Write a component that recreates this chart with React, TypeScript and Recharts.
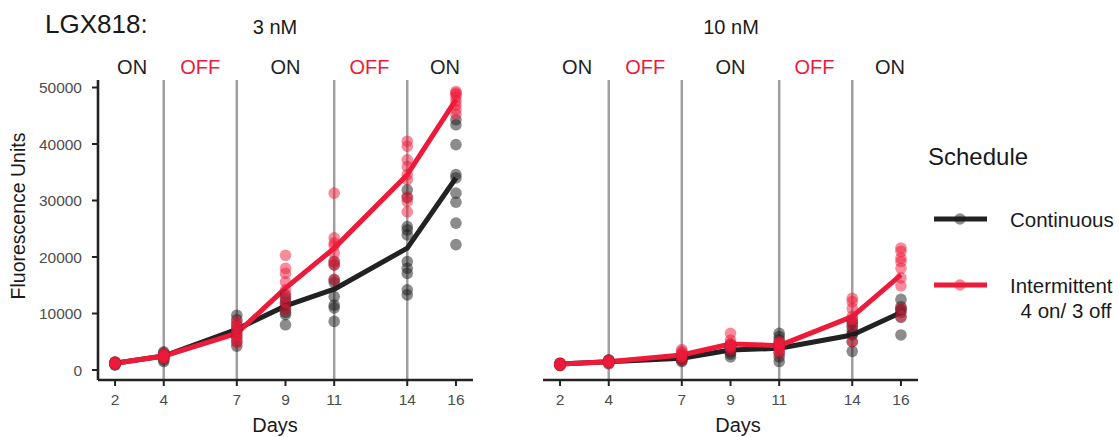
import React from "react";
import { ComposedChart, Scatter, Line, XAxis, YAxis, ReferenceLine } from "recharts";

const days = [2, 4, 7, 9, 11, 14, 16];
const switchDays = [4, 7, 11, 14];
const phaseLabels = ["ON", "OFF", "ON", "OFF", "ON"];
const phaseAt = [2.7, 5.5, 9, 12.45, 15.55];
const yTicks = [0, 10000, 20000, 30000, 40000, 50000];

// 3 nM, one row per day
const cont3 = [
  [850, 1000, 1100, 1200, 1250, 1350, 1450, 1150],
  [1500, 1800, 2100, 2400, 2700, 3000, 3200, 2300],
  [4200, 5000, 5800, 6500, 7200, 8000, 8900, 9700],
  [8000, 9800, 10200, 10800, 11500, 12000, 12600, 13300],
  [8600, 11000, 11500, 13000, 15500, 16000, 18600, 19200],
  [13300, 14200, 17100, 18000, 19200, 23900, 24800, 25400, 30500, 31900],
  [22200, 26000, 29700, 31300, 34000, 34600, 39900, 43400, 44300],
];
const int3 = [
  [1000, 1100, 1200, 1300, 1250, 1150, 1350, 1200],
  [2000, 2200, 2400, 2500, 2700, 2900, 2300, 2600],
  [4800, 5400, 6000, 6500, 7000, 7500, 8000, 8600],
  [10700, 11900, 13000, 14200, 15600, 17100, 18000, 20300],
  [16000, 18600, 19200, 20700, 22500, 23400, 22000, 31300],
  [28000, 29800, 30700, 33700, 34600, 36000, 37200, 39600, 40500],
  [45300, 46100, 46900, 47600, 48300, 48800, 49000, 49300],
];
const cont3Mean = [1190, 2480, 7210, 11350, 14300, 21570, 33980];
const int3Mean = [1190, 2480, 6500, 14480, 21570, 34570, 47870];

// 10 nM
const cont10 = [
  [750, 850, 950, 1050, 1150, 1250, 1000, 1100],
  [1100, 1300, 1400, 1500, 1600, 1700, 1800, 1450],
  [1500, 1700, 1900, 2100, 2300, 2500, 2000, 2600],
  [2300, 2800, 3200, 3500, 3800, 4200, 4500, 3600],
  [1500, 2300, 3000, 4100, 4500, 5300, 5900, 6500],
  [3300, 5000, 6200, 7000, 7700, 8300, 8600, 6400],
  [6200, 9300, 10200, 10600, 11200, 12500, 10800],
];
const int10 = [
  [800, 900, 1000, 1100, 1200, 1150, 1050, 950],
  [1200, 1300, 1400, 1500, 1600, 1700, 1450, 1550],
  [1800, 2200, 2500, 2800, 3000, 3300, 3600, 2600],
  [3500, 3900, 4400, 4700, 5300, 6500, 4200, 4400],
  [3000, 3500, 3900, 4300, 4600, 5000, 4800, 4200],
  [5000, 7700, 8900, 10900, 12100, 12700, 9500, 9000],
  [9500, 10900, 14900, 16300, 18000, 19200, 19800, 21000, 21600],
];
const cont10Mean = [1060, 1480, 2070, 3550, 3840, 6200, 10170];
const int10Mean = [1060, 1480, 2660, 4610, 4310, 9460, 16840];

const BLACK = "#222222";
const RED = "#EE1A3A";
const FONT = "'Liberation Sans', Arial, sans-serif";

const toPoints = (rows: number[][]) =>
  days.flatMap((d, i) => rows[i].map((v) => ({ day: d, v })));
const toLine = (means: number[]) => days.map((d, i) => ({ day: d, v: means[i] }));

const dot = (color: string) => (p: any) =>
  <circle cx={p.cx} cy={p.cy} r={5.8} fill={color} fillOpacity={0.5} />;

function Panel({
  cont,
  contMean,
  inter,
  interMean,
  showY,
  left,
}: {
  cont: number[][];
  contMean: number[];
  inter: number[][];
  interMean: number[];
  showY: boolean;
  left: number;
}) {
  return (
    <div style={{ position: "absolute", left, top: 0 }}>
      <ComposedChart
        width={480}
        height={437}
        margin={{ top: 80, right: 7, bottom: 0, left: showY ? 0 : 98 }}
      >
        <XAxis
          type="number"
          dataKey="day"
          domain={[1.3, 16.7]}
          ticks={days}
          allowDataOverflow
          height={57}
          tickSize={6}
          tickMargin={8}
          tick={{ fontSize: 15.5, fill: "#4d4d4d", fontFamily: FONT }}
          tickLine={{ stroke: BLACK, strokeWidth: 2 }}
          axisLine={{ stroke: BLACK, strokeWidth: 2.6 }}
        />
        <YAxis
          type="number"
          domain={[-1770, 51330]}
          ticks={yTicks}
          allowDataOverflow
          hide={!showY}
          width={98}
          tickSize={6}
          tickMargin={10}
          tick={{ fontSize: 15.5, fill: "#4d4d4d", fontFamily: FONT }}
          tickLine={{ stroke: BLACK, strokeWidth: 2 }}
          axisLine={{ stroke: BLACK, strokeWidth: 2.6 }}
        />
        {switchDays.map((d) => (
          <ReferenceLine key={d} x={d} stroke="#8f8f8f" strokeOpacity={0.85} strokeWidth={2.5} />
        ))}
        {phaseAt.map((d, i) => (
          <ReferenceLine
            key={"p" + i}
            x={d}
            stroke="none"
            label={{
              value: phaseLabels[i],
              position: "top",
              offset: 6,
              fontSize: 20,
              fontFamily: FONT,
              fill: phaseLabels[i] === "OFF" ? RED : BLACK,
            }}
          />
        ))}
        <Scatter data={toPoints(cont)} dataKey="v" shape={dot("#1a1a1a")} isAnimationActive={false} />
        <Scatter data={toPoints(inter)} dataKey="v" shape={dot(RED)} isAnimationActive={false} />
        <Line
          data={toLine(contMean)}
          dataKey="v"
          type="linear"
          stroke={BLACK}
          strokeWidth={5}
          strokeLinejoin="round"
          dot={false}
          activeDot={false}
          isAnimationActive={false}
        />
        <Line
          data={toLine(interMean)}
          dataKey="v"
          type="linear"
          stroke={RED}
          strokeWidth={5}
          strokeLinejoin="round"
          dot={false}
          activeDot={false}
          isAnimationActive={false}
        />
      </ComposedChart>
    </div>
  );
}

export default function App() {
  return (
    <div
      style={{
        position: "absolute",
        left: 0,
        top: 0,
        width: 1119,
        height: 437,
        background: "#fff",
        fontFamily: FONT,
        overflow: "hidden",
      }}
    >
      <Panel cont={cont3} contMean={cont3Mean} inter={int3} interMean={int3Mean} showY left={0} />
      <Panel cont={cont10} contMean={cont10Mean} inter={int10} interMean={int10Mean} showY={false} left={445} />
      <svg
        width={1119}
        height={437}
        style={{ position: "absolute", left: 0, top: 0, pointerEvents: "none" }}
        fontFamily={FONT}
      >
        <text x={45} y={33} fontSize={26} fill="#1a1a1a">LGX818:</text>
        <text x={275} y={34} fontSize={20} fill="#1a1a1a" textAnchor="middle">3 nM</text>
        <text x={731} y={34} fontSize={20} fill="#1a1a1a" textAnchor="middle">10 nM</text>
        <text
          x={0}
          y={0}
          fontSize={19.5}
          fill="#1a1a1a"
          textAnchor="middle"
          transform="translate(25 216) rotate(-90)"
        >
          Fluorescence Units
        </text>
        <text x={275} y={432} fontSize={20} fill="#1a1a1a" textAnchor="middle">Days</text>
        <text x={738} y={432} fontSize={20} fill="#1a1a1a" textAnchor="middle">Days</text>

        {/* legend */}
        <text x={928} y={165} fontSize={24} fill="#1a1a1a">Schedule</text>
        <line x1={934} x2={987} y1={219} y2={219} stroke={BLACK} strokeWidth={5} />
        <circle cx={960} cy={219} r={5.8} fill="#1a1a1a" fillOpacity={0.5} />
        <text x={1010} y={227} fontSize={20.5} fill="#1a1a1a">Continuous</text>
        <line x1={934} x2={987} y1={285} y2={285} stroke={RED} strokeWidth={5} />
        <circle cx={960} cy={285} r={5.8} fill={RED} fillOpacity={0.5} />
        <text x={1010} y={293} fontSize={20.5} fill="#1a1a1a">Intermittent</text>
        <text x={1066} y={318} fontSize={20.5} fill="#1a1a1a" textAnchor="middle">4 on/ 3 off</text>
      </svg>
    </div>
  );
}
